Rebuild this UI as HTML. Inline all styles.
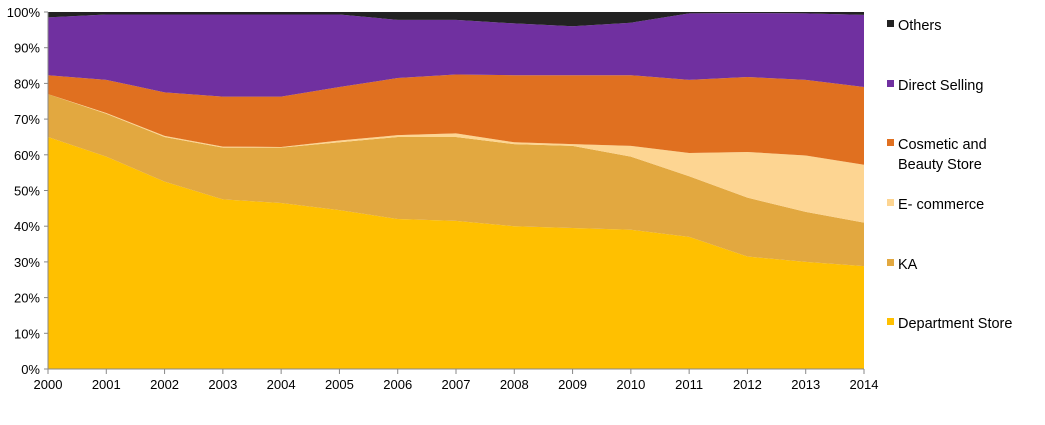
<!DOCTYPE html>
<html><head><meta charset="utf-8"><style>
body{margin:0;background:#fff;font-family:"Liberation Sans",sans-serif;}
svg text{font-family:"Liberation Sans",sans-serif;font-size:13px;fill:#000;}
svg text.leg{font-size:14.5px;}
</style></head><body>
<svg id="chart" width="1045" height="420"></svg>
<script>
const years=[2000,2001,2002,2003,2004,2005,2006,2007,2008,2009,2010,2011,2012,2013,2014];
const dept=[65,59.5,52.5,47.5,46.5,44.5,42,41.5,40,39.5,39,37,31.5,30,28.8];
const ka=[12,12,12.5,14.5,15.5,19,23,23.5,23,23,20.5,17,16.5,14,12.2];
const ecom=[0,0.2,0.3,0.3,0.2,0.5,0.5,1,0.5,0.5,3,6.5,12.8,15.8,16.2];
const cosm=[5.3,9.3,12.2,14,14.1,15,16,16.5,18.8,19.3,19.8,20.5,21,21.2,21.8];
const direct=[16.2,18.3,21.8,23,23,20.3,16.3,15.3,14.5,13.7,14.7,18.6,17.9,18.6,20.2];
const others=[1.5,0.7,0.7,0.7,0.7,0.7,2.2,2.2,3.2,4,3,0.4,0.3,0.4,0.8];
const yTicks=[0,10,20,30,40,50,60,70,80,90,100];
const seriesNames=["Department Store","KA","E-commerce","Cosmetic and Beauty Store","Direct Selling","Others"];
const seriesData=[dept,ka,ecom,cosm,direct,others];
const colors=["#ffc000","#e2a840","#fdd592","#e07020","#7030a0","#222222"];
const X0=48,X1=864,Y0=369,Y1=12;
const x=i=>X0+(X1-X0)*i/(years.length-1);
const y=v=>Y0-(Y0-Y1)*v/100;
const svg=document.getElementById('chart');
const NS="http://www.w3.org/2000/svg";
function mk(t,a){const e=document.createElementNS(NS,t);for(const k in a)e.setAttribute(k,a[k]);svg.appendChild(e);return e;}
let base=years.map(()=>0);
seriesData.forEach((s,k)=>{
  const top=base.map((b,i)=>b+s[i]);
  let d="M";
  top.forEach((v,i)=>{d+=x(i)+","+y(Math.min(v,100))+" L";});
  for(let i=years.length-1;i>=0;i--){d+=x(i)+","+y(base[i])+(i?" L":" Z");}
  const p=mk('path',{d:d,fill:colors[k]});
  
  
  base=top;
});
const ax=mk('line',{x1:X0,y1:Y1,x2:X0,y2:Y0,stroke:'#888'});


const bx=mk('line',{x1:X0,y1:Y0,x2:X1,y2:Y0,stroke:'#888'});


yTicks.forEach(t=>{
  mk('line',{x1:X0-4,x2:X0,y1:y(t),y2:y(t),stroke:'#888'});
  const tx=mk('text',{x:X0-8,y:y(t)+5,'text-anchor':'end'});tx.textContent=t+'%';
  
  
});
years.forEach((yr,i)=>{
  mk('line',{x1:x(i),x2:x(i),y1:Y0,y2:Y0+5,stroke:'#888'});
  const tx=mk('text',{x:x(i),y:Y0+20,'text-anchor':'middle'});tx.textContent=yr;
  
  
});
const leg=[[5,25,["Others"]],[4,85,["Direct Selling"]],[3,144,["Cosmetic and","Beauty Store"]],[2,204,["E- commerce"]],[1,264,["KA"]],[0,323,["Department Store"]]];
leg.forEach(([k,ly,lines])=>{
  const r=mk('rect',{x:887,y:ly-5,width:7,height:7,fill:colors[k]});
  
  
  lines.forEach((l,j)=>{
    const tx=mk('text',{x:898,y:ly+5+j*20,'class':'leg'});tx.textContent=l;
    
    
  });
});
</script>
</body></html>
